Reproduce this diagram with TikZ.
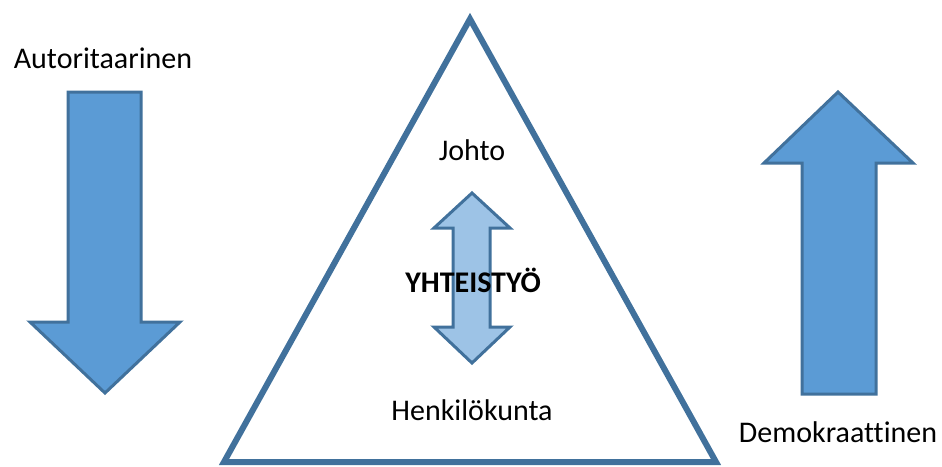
\documentclass[tikz,border=0pt]{standalone}
\usepackage{fontspec}
\setmainfont[Ligatures={NoCommon}]{Carlito}
\definecolor{blfill}{HTML}{5B9BD5}
\definecolor{blline}{HTML}{41719C}
\definecolor{ltfill}{HTML}{9DC3E6}
\begin{document}
\begin{tikzpicture}[x=1pt,y=-1pt,
  bigarrow/.style={fill=blfill,draw=blline,line width=3pt,line join=miter},
  dblarrow/.style={fill=ltfill,draw=blline,line width=3pt,line join=miter},
  tri/.style={draw=blline,line width=6pt,line join=miter,miter limit=10},
  lbl/.style={font=\fontsize{30}{36}\selectfont,inner sep=0pt}]
\useasboundingbox (0,0) rectangle (942,466);
% triangle
\draw[tri] (470,19) -- (716,462) -- (224,462) -- cycle;
% left arrow (down)
\draw[bigarrow] (68,92) -- (141,92) -- (141,322) -- (180,322) -- (105,393) -- (30,322) -- (68,322) -- cycle;
% right arrow (up)
\draw[bigarrow] (802,394) -- (876,394) -- (876,163) -- (913,163) -- (838,92) -- (764,163) -- (802,163) -- cycle;
% double arrow
\draw[dblarrow] (472,193) -- (510,228) -- (490,228) -- (490,327) -- (510,327) -- (472,363) -- (434,327) -- (453,327) -- (453,228) -- (434,228) -- cycle;
% labels
\node[lbl] (aut) at (103,58) {Autoritaarinen};
\node[lbl] (joh) at (472,150) {Johto};
\node[lbl,font=\fontsize{30}{36}\selectfont\bfseries] (yht) at (473,280) {YHTEISTYÖ};
\node[lbl] (hen) at (472,410) {Henkilökunta};
\node[lbl] (dem) at (838,432) {Demokraattinen};
\end{tikzpicture}
\end{document}
